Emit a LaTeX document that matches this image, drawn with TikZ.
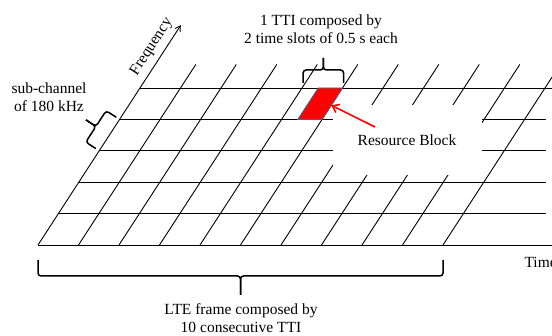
\documentclass[tikz,border=0pt]{standalone}
\usepackage{fontspec}
\setmainfont{Liberation Serif}
\usetikzlibrary{arrows.meta}
\definecolor{rbedge}{RGB}{80,100,130}

\begin{document}
\begin{tikzpicture}[x=1pt,y=1pt,
    slant/.style={shift={(38,91)},x={(40.5pt,0pt)},y={(20.4pt,31.4pt)}},
    gridline/.style={line width=0.9pt},
    brace/.style={line width=1.5pt,rounded corners=3pt},
    lbl/.style={font=\fontsize{15.5}{18}\selectfont,align=center}]
  \useasboundingbox (0,0) rectangle (552,336);

  % grid of the resource blocks
  \begin{scope}[slant]
    \coordinate (O) at (0,0);
    \coordinate (F) at (0,7);
    \coordinate (T) at (13,0);
    \coordinate (A3) at (0,3);
    \foreach \j in {1,...,4}
      \draw[gridline] (0,\j) -- (12.54-0.504*\j,\j);
    \draw[gridline] (0,5) -- (12,5);
    \foreach \i in {1,...,10}
      \draw[gridline] (\i,0) -- (\i,5.75);
    \draw[gridline,-{Straight Barb[length=5pt,width=6pt]}] (O) -- node[lbl,pos=0.87,sloped,above=2pt]{Frequency} (F);
    \draw[gridline] (O) -- (T);
  \end{scope}

  \node[lbl,fill=white,minimum width=149pt,minimum height=70pt] (rb) at (407,196) {Resource Block};

  \begin{scope}[slant]
    \filldraw[fill=red,draw=rbedge,line width=0.8pt] (4.4,4) -- (5,4) -- (5,5) -- (4.4,5) -- cycle;
    \coordinate (RB) at (5,4.45);
  \end{scope}
  \coordinate (rbtail) at (375,209);
  \draw[red,line width=1.6pt,-{Straight Barb[length=6pt,width=9pt]}] (rbtail) -- (RB);

  \node[lbl] (tti) at (321,307) {1 TTI composed by\\2 time slots of 0.5 s each};
  \node[lbl] (sub) at (49,239) {sub-channel\\of 180 kHz};
  \node[lbl] (lte) at (241,18) {LTE frame composed by\\10 consecutive TTI};
  \node[lbl,anchor=west] (time) at (521,74) {Time};

  % braces
  \draw[brace] (303.1,253) -- (303.1,266) -- (323.4,266) -- (323.4,278);
  \draw[brace] (343.6,253) -- (343.6,266) -- (323.4,266) -- (323.4,278);
  \draw[brace] (38,76) -- (38,60) -- (240.5,60) -- (240.5,41);
  \draw[brace] (443,76) -- (443,60) -- (240.5,60) -- (240.5,41);
  \begin{scope}[shift={(A3)},rotate=56.98]
    \draw[brace] (0,4) -- (0,16) -- (18.7,16) -- (18.7,28);
    \draw[brace] (37.4,4) -- (37.4,16) -- (18.7,16) -- (18.7,28);
  \end{scope}
\end{tikzpicture}
\end{document}
